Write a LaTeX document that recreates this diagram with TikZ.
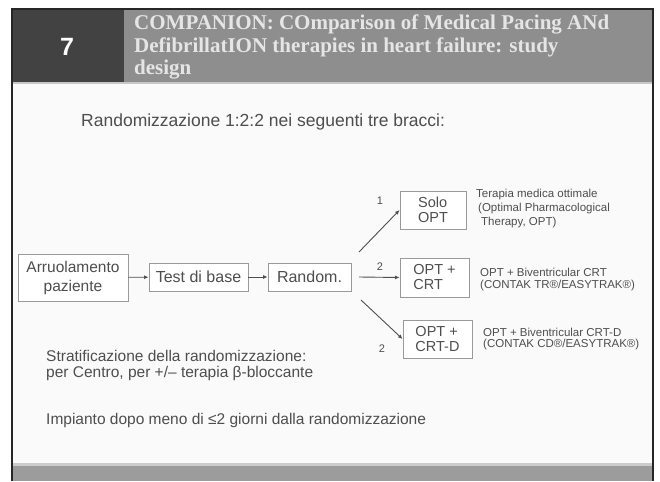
\documentclass[tikz,border=0pt]{standalone}
\usepackage{fontspec}
\setmainfont{Liberation Sans}
\newfontfamily\titleserif{Liberation Serif}
\usetikzlibrary{arrows.meta}
\definecolor{hdrdark}{HTML}{424242}
\definecolor{hdrgray}{HTML}{8E8E8E}
\definecolor{footgray}{HTML}{9C9C9C}
\definecolor{txtgray}{HTML}{4E4E4E}
\definecolor{boxgray}{HTML}{9A9A9A}
\tikzset{
  flowbox/.style={draw=boxgray, line width=0.9pt, fill=white, text=txtgray, inner sep=2pt},
  armbox/.style={draw=boxgray, line width=0.9pt, fill=white, text=txtgray, align=left, font=\fontsize{14.5}{15}\selectfont, inner sep=2pt},
  body/.style={text=txtgray, anchor=west, inner sep=0pt},
  desc/.style={text=txtgray, anchor=west, inner sep=0pt, font=\fontsize{11.5}{11.5}\selectfont},
  armlabel/.style={text=txtgray, inner sep=0pt, font=\fontsize{11}{11}\selectfont},
  conn/.style={draw=txtgray, line width=0.9pt, -{Latex[length=4.5pt,width=4pt]}}
}
\begin{document}
\begin{tikzpicture}[x=1pt,y=-1pt]
\useasboundingbox (0,0) rectangle (660,481);
\fill[white] (0,0) rectangle (660,481);
% slide frame
\fill[white!98!black] (12,9) rectangle (653,481);
\fill[hdrdark] (12,9) rectangle (124,82);
\fill[hdrgray] (124,9) rectangle (653,82);
\fill[black!22] (12,82) rectangle (653,84.5);
\fill[black!20] (12,463) rectangle (653,466);
\fill[footgray] (12,466) rectangle (653,481);
\draw[black!85, line width=1.3pt] (12,481) -- (12,9) -- (653,9) -- (653,481);
% header
\node[text=white, font=\fontsize{25}{25}\selectfont\bfseries] (num) at (67,47) {7};
\node[anchor=north west, text=white!90!black, align=left, inner sep=0pt,
      font=\titleserif\fontsize{21}{22.5}\selectfont\bfseries] (title) at (134,15)
  {COMPANION: COmparison of Medical Pacing ANd\\DefibrillatION therapies in heart failure: study\\design};
% intro
\node[body, font=\fontsize{17.5}{17.5}\selectfont] (intro) at (81,122) {Randomizzazione 1:2:2 nei seguenti tre bracci:};
% flow
\node[flowbox, minimum width=110pt, minimum height=47pt, align=center, font=\fontsize{15.5}{19}\selectfont] (arr) at (73,277.5) {Arruolamento\\paziente};
\node[flowbox, minimum width=99pt, minimum height=28pt, font=\fontsize{16}{16}\selectfont] (test) at (198.5,277) {Test di base};
\node[flowbox, minimum width=83pt, minimum height=28pt, font=\fontsize{16}{16}\selectfont] (rnd) at (309.5,277) {Random.};
\node[armbox, minimum width=66pt, minimum height=38pt] (solo) at (433,210) {Solo\\OPT};
\node[armbox, minimum width=69pt, minimum height=39pt] (crt) at (434.5,277.5) {OPT +\\CRT};
\node[armbox, minimum width=69pt, minimum height=38pt] (crtd) at (437.5,339) {OPT +\\CRT-D};
\draw[conn] (arr) -- (test);
\draw[conn] (test) -- (rnd);
\coordinate (f1) at (359,252);
\coordinate (f2) at (359,277);
\coordinate (f3) at (361,300);
\draw[conn] (f1) -- (solo.west);
\draw[conn] (f2) -- (crt.west);
\draw[conn] (f3) -- (crtd.west);
\node[armlabel] (l1) at (380,201) {1};
\node[armlabel] (l2) at (380,267) {2};
\node[armlabel] (l3) at (382,349) {2};
% descriptions
\node[desc] (d1a) at (476,195) {Terapia medica ottimale};
\node[desc] (d1b) at (478,209) {(Optimal Pharmacological};
\node[desc] (d1c) at (481,223) {Therapy, OPT)};
\node[desc] (d2a) at (480,272) {OPT + Biventricular CRT};
\node[desc] (d2b) at (480,286) {(CONTAK TR\textregistered/EASYTRAK\textregistered)};
\node[desc] (d3a) at (483,332) {OPT + Biventricular CRT-D};
\node[desc] (d3b) at (483,345) {(CONTAK CD\textregistered/EASYTRAK\textregistered)};
% bottom notes
\node[body, align=left, anchor=north west, font=\fontsize{15.5}{16.5}\selectfont] (strat) at (46,350) {Stratificazione della randomizzazione:\\per Centro, per +/– terapia β-bloccante};
\node[body, font=\fontsize{15.5}{15.5}\selectfont] (imp) at (46,420) {Impianto dopo meno di ≤2 giorni dalla randomizzazione};
\end{tikzpicture}
\end{document}
